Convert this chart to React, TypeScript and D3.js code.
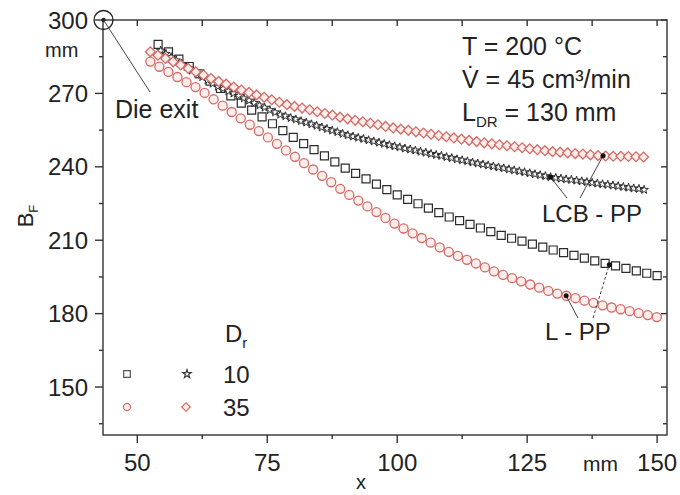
import React from 'react';
import * as d3 from 'd3';

const W = 680;
const H = 495;
const FONT = '"Liberation Sans", Arial, Helvetica, sans-serif';

// axis ticks
const xMajor = [50, 75, 100, 125, 150];
const xMinor = [62.5, 87.5, 112.5, 137.5];
const yMajor = [150, 180, 210, 240, 270, 300];
const yMinor = [135, 165, 195, 225, 255, 285];

// L-PP, Dr = 10 (squares)
const sqStart = 54;
const sqStep = 2;
const sqVals = [
  290.0, 287.0, 284.0, 281.0, 278.0, 275.0, 272.0, 269.0, 266.0, 263.2,
  260.4, 257.6, 254.8, 252.0, 249.5, 247.0, 244.5, 242.0, 239.5, 237.3,
  235.1, 232.9, 230.7, 228.5, 226.7, 224.9, 223.1, 221.3, 219.5, 218.0,
  216.5, 215.0, 213.5, 212.0, 210.8, 209.6, 208.4, 207.2, 206.0, 204.9,
  203.8, 202.7, 201.6, 200.5, 199.5, 198.5, 197.5, 196.5, 195.5,
];

// LCB-PP, Dr = 10 (stars)
const stStart = 54.5;
const stStep = 1;
const stVals = [
  287.5, 286.2, 284.8, 283.5, 282.1, 280.8, 279.4, 278.1, 276.7, 275.4,
  274.0, 272.8, 271.9, 270.9, 270.0, 269.0, 268.0, 267.1, 266.1, 265.1,
  264.2, 263.2, 262.3, 261.3, 260.7, 260.0, 259.4, 258.7, 258.1, 257.4,
  256.8, 256.1, 255.5, 254.8, 254.2, 253.5, 252.9, 252.4, 251.9, 251.4,
  250.9, 250.4, 249.9, 249.4, 248.9, 248.4, 248.0, 247.5, 247.1, 246.7,
  246.2, 245.8, 245.3, 244.9, 244.5, 244.0, 243.6, 243.1, 242.7, 242.3,
  241.8, 241.4, 241.0, 240.6, 240.2, 239.8, 239.4, 239.0, 238.6, 238.2,
  237.8, 237.4, 237.0, 236.6, 236.2, 235.8, 235.5, 235.2, 234.9, 234.7,
  234.4, 234.1, 233.8, 233.5, 233.2, 232.9, 232.7, 232.4, 232.1, 231.8,
  231.5, 231.2, 231.0, 230.6,
];

// L-PP, Dr = 35 (circles)
const ciStart = 52.5;
const ciStep = 1.74;
const ciVals = [
  283.0, 280.9, 278.8, 276.7, 274.6, 272.6, 270.2, 267.6, 265.0, 262.4,
  259.8, 257.2, 254.6, 252.0, 249.4, 246.7, 244.1, 241.5, 238.9, 236.3,
  233.7, 231.0, 228.5, 226.2, 223.8, 221.5, 219.1, 216.8, 214.8, 212.8,
  210.9, 209.0, 207.1, 205.2, 203.6, 202.0, 200.5, 198.9, 197.3, 195.8,
  194.5, 193.2, 191.9, 190.6, 189.3, 188.2, 187.3, 186.3, 185.3, 184.4,
  183.4, 182.5, 181.8, 181.0, 180.2, 179.4, 178.6,
];

// LCB-PP, Dr = 35 (diamonds)
const diStart = 52.5;
const diStep = 1.46;
const diVals = [
  287.0, 285.6, 284.3, 282.9, 281.6, 280.2, 278.8, 277.5, 276.1, 274.9,
  273.8, 272.6, 271.4, 270.4, 269.4, 268.4, 267.4, 266.4, 265.4, 264.7,
  264.0, 263.3, 262.5, 261.8, 261.1, 260.3, 259.6, 259.0, 258.4, 257.8,
  257.2, 256.5, 255.9, 255.4, 254.9, 254.3, 253.8, 253.3, 252.8, 252.3,
  251.8, 251.3, 250.8, 250.3, 249.8, 249.4, 249.0, 248.6, 248.2, 247.8,
  247.4, 247.0, 246.6, 246.2, 246.0, 245.7, 245.4, 245.2, 244.9, 244.6,
  244.4, 244.3, 244.3, 244.2, 244.1, 244.0,
];

// annotated points
const dieExit = [43.5, 300];
const lcbPoints = [[129.5, 235.8], [139.6, 244.5]];
const lPoints = [[132.5, 187.3], [140.8, 200.0]];

const BLACK = '#2b2b2b';
const RED = '#d36a64';
const RED_FILL = '#fdeeed';
const TXT = '#222';

function pts(start: number, step: number, vals: number[]) {
  return vals.map((v, i) => [start + step * i, v]);
}

export default function App() {
  const x = d3.scaleLinear().domain([43.4, 151.9]).range([103, 667]);
  const y = d3.scaleLinear().domain([130.4, 300]).range([435, 20]);
  const [x0, x1] = x.range();
  const [yb, yt] = y.range();

  const squarePath = d3.symbol().type(d3.symbolSquare).size(64)() as string;
  const circlePath = d3.symbol().type(d3.symbolCircle).size(64)() as string;
  const starPath = d3.symbol().type(d3.symbolStar).size(22)() as string;
  const diamondPath = d3.symbol().type(d3.symbolSquare).size(48)() as string;

  const sq = pts(sqStart, sqStep, sqVals);
  const st = pts(stStart, stStep, stVals);
  const ci = pts(ciStart, ciStep, ciVals);
  const di = pts(diStart, diStep, diVals);

  const lineStyle = { stroke: '#444', strokeWidth: 1 };

  return (
    <svg
      width={W}
      height={H}
      style={{ position: 'absolute', left: 0, top: 0, background: '#fff' }}
      fontFamily={FONT}
    >
      <rect x={0} y={0} width={W} height={H} fill="#fff" />

      {/* data */}
      <g>
        {sq.map(([a, b], i) => (
          <path key={'s' + i} d={squarePath} transform={`translate(${x(a)},${y(b)})`}
            fill="#fff" stroke={BLACK} strokeWidth={1.2} />
        ))}
        {st.map(([a, b], i) => (
          <path key={'t' + i} d={starPath} transform={`translate(${x(a)},${y(b)})`}
            fill="#fff" stroke={BLACK} strokeWidth={1} />
        ))}
        {di.map(([a, b], i) => (
          <path key={'d' + i} d={diamondPath} transform={`translate(${x(a)},${y(b)}) rotate(45)`}
            fill={RED_FILL} stroke={RED} strokeWidth={1.3} />
        ))}
        {ci.map(([a, b], i) => (
          <path key={'c' + i} d={circlePath} transform={`translate(${x(a)},${y(b)})`}
            fill={RED_FILL} stroke={RED} strokeWidth={1.3} />
        ))}
      </g>

      {/* frame */}
      <rect x={x0} y={yt} width={x1 - x0} height={yb - yt} fill="none" stroke="#333" strokeWidth={1.4} />

      {/* bottom axis ticks (outward) */}
      {xMajor.map((v) => (
        <line key={'xb' + v} x1={x(v)} x2={x(v)} y1={yb} y2={yb + 8} stroke="#333" strokeWidth={1.4} />
      ))}
      {xMinor.map((v) => (
        <line key={'xbm' + v} x1={x(v)} x2={x(v)} y1={yb} y2={yb + 4} stroke="#333" strokeWidth={1.4} />
      ))}
      {/* top axis ticks (inward) */}
      {[...xMajor, ...xMinor].map((v) => (
        <line key={'xt' + v} x1={x(v)} x2={x(v)} y1={yt} y2={yt + 6} stroke="#333" strokeWidth={1.4} />
      ))}
      {/* left axis ticks (outward) */}
      {yMajor.map((v) => (
        <line key={'yl' + v} x1={x0 - 8} x2={x0} y1={y(v)} y2={y(v)} stroke="#333" strokeWidth={1.4} />
      ))}
      {yMinor.map((v) => (
        <line key={'ylm' + v} x1={x0 - 4} x2={x0} y1={y(v)} y2={y(v)} stroke="#333" strokeWidth={1.4} />
      ))}
      {/* right axis ticks (inward) */}
      {yMajor.map((v) => (
        <line key={'yr' + v} x1={x1 - 6} x2={x1} y1={y(v)} y2={y(v)} stroke="#333" strokeWidth={1.4} />
      ))}
      {yMinor.map((v) => (
        <line key={'yrm' + v} x1={x1 - 4} x2={x1} y1={y(v)} y2={y(v)} stroke="#333" strokeWidth={1.4} />
      ))}

      {/* tick labels */}
      {xMajor.map((v) => (
        <text key={'xl' + v} x={x(v)} y={471} textAnchor="middle" fontSize={24} fill={TXT}>{v}</text>
      ))}
      {yMajor.map((v) => (
        <text key={'yl2' + v} x={88} y={y(v) + 8.5} textAnchor="end" fontSize={24} fill={TXT}>{v}</text>
      ))}

      {/* units and axis titles */}
      <text x={45} y={57} fontSize={20} fill={TXT}>mm</text>
      <text x={583} y={471} fontSize={21} fill={TXT}>mm</text>
      <text x={361} y={489} textAnchor="middle" fontSize={20} fill={TXT}>x</text>
      <text transform="translate(33,216) rotate(-90)" textAnchor="middle" fontSize={22} fill={TXT}>
        B<tspan fontSize={13} dy={5}>F</tspan>
      </text>

      {/* die exit */}
      <circle cx={x(dieExit[0])} cy={y(dieExit[1])} r={9.5} fill="none" stroke="#222" strokeWidth={1.3} />
      <circle cx={x(dieExit[0])} cy={y(dieExit[1])} r={2.2} fill="#222" />
      <line x1={x(dieExit[0])} y1={y(dieExit[1])} x2={150} y2={92} {...lineStyle} />
      <text x={115} y={118} fontSize={25} fill={TXT}>Die exit</text>

      {/* process conditions */}
      <text x={462} y={55} fontSize={25} fill={TXT}>T = 200 °C</text>
      <text x={462} y={88} fontSize={25} fill={TXT}>V̇ = 45 cm³/min</text>
      <text x={462} y={121} fontSize={25} fill={TXT}>
        L<tspan fontSize={15} dy={6}>DR</tspan><tspan dy={-6}> = 130 mm</tspan>
      </text>

      {/* LCB - PP annotation */}
      <line x1={567} y1={198} x2={x(lcbPoints[0][0])} y2={y(lcbPoints[0][1])} {...lineStyle} />
      <line x1={580} y1={198} x2={x(lcbPoints[1][0])} y2={y(lcbPoints[1][1])} {...lineStyle} />
      {lcbPoints.map(([a, b], i) => (
        <circle key={'lcb' + i} cx={x(a)} cy={y(b)} r={2.5} fill="#111" />
      ))}
      <text x={542} y={222} fontSize={24} fill={TXT}>LCB - PP</text>

      {/* L - PP annotation */}
      <line x1={578} y1={318} x2={x(lPoints[0][0])} y2={y(lPoints[0][1])} {...lineStyle} />
      <line x1={593} y1={318} x2={x(lPoints[1][0])} y2={y(lPoints[1][1])} {...lineStyle} strokeDasharray="3,2" />
      {lPoints.map(([a, b], i) => (
        <circle key={'lp' + i} cx={x(a)} cy={y(b)} r={2.5} fill="#111" />
      ))}
      <text x={545} y={340} fontSize={24} fill={TXT}>L - PP</text>

      {/* legend */}
      <text x={225} y={342} fontSize={24} fill={TXT}>
        D<tspan fontSize={15} dy={6}>r</tspan>
      </text>
      <path d={d3.symbol().type(d3.symbolSquare).size(44)() as string} transform="translate(127,374)"
        fill="#fff" stroke="#555" strokeWidth={1.2} />
      <path d={d3.symbol().type(d3.symbolStar).size(22)() as string} transform="translate(187,374)"
        fill="#fff" stroke="#333" strokeWidth={1.1} />
      <text x={223} y={383} fontSize={24} fill={TXT}>10</text>
      <path d={d3.symbol().type(d3.symbolCircle).size(40)() as string} transform="translate(127,407)"
        fill={RED_FILL} stroke={RED} strokeWidth={1.2} />
      <path d={d3.symbol().type(d3.symbolSquare).size(36)() as string} transform="translate(186,407) rotate(45)"
        fill={RED_FILL} stroke={RED} strokeWidth={1.2} />
      <text x={223} y={416} fontSize={24} fill={TXT}>35</text>
    </svg>
  );
}
